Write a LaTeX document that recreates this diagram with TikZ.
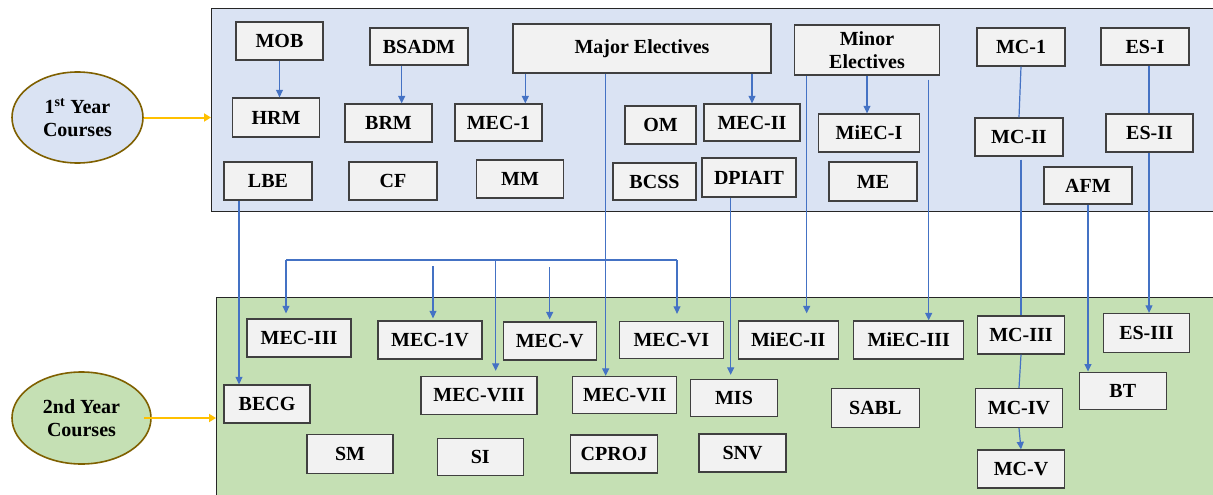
\documentclass[tikz,border=0pt]{standalone}
\usepackage{fontspec}
\setmainfont{Liberation Serif}
\usetikzlibrary{shapes.geometric,arrows.meta}
\definecolor{boxfill}{HTML}{F2F2F2}
\definecolor{boxline}{HTML}{404040}
\definecolor{topfill}{HTML}{DAE3F3}
\definecolor{botfill}{HTML}{C5E0B4}
\definecolor{conn}{HTML}{4472C4}
\definecolor{gold}{HTML}{FFC000}
\definecolor{ellline}{HTML}{7F6000}
\begin{document}
\begin{tikzpicture}[x=1pt,y=-1pt,
  box/.style={draw=boxline, fill=boxfill, line width=1.3pt, inner sep=0pt,
    font=\bfseries\fontsize{20}{23}\selectfont, align=center},
  bw/.style={minimum width=#1},
  bh/.style={minimum height=#1},
  panel/.style={draw=black!85, line width=1.2pt, anchor=north west, inner sep=0pt},
  yearell/.style={ellipse, draw=ellline, line width=1.6pt, inner sep=0pt,
    font=\bfseries\fontsize{20}{23}\selectfont, align=center},
  arr/.style={draw=conn, line width=1.2pt, -{Triangle[length=7.5pt,width=7pt]}},
  ln/.style={draw=conn, line width=1.2pt},
  garr/.style={draw=gold, line width=2pt, -{Triangle[length=7pt,width=8pt]}}
]
\useasboundingbox (0,0) rectangle (1213,495);
\fill[white] (0,0) rectangle (1213,495);

% panels
\node[panel, fill=topfill, minimum width=1003pt, minimum height=203pt] (Y1) at (211,8) {};
\node[panel, fill=botfill, minimum width=998pt, minimum height=205pt] (Y2) at (216,297) {};

% year ellipses
\node[yearell, fill=topfill, minimum width=131pt, minimum height=91pt] (E1) at (77.5,117.5) {1\textsuperscript{st} Year\\Courses};
\node[yearell, fill=botfill, minimum width=139pt, minimum height=92pt] (E2) at (81.5,418) {2nd Year\\Courses};
\draw[garr] (E1.east) -- (E1.east -| Y1.west);
\draw[garr] ([xshift=-8pt]E2.east) -- (E2.east -| Y2.west);

% first-year boxes
\node[box, bw=87pt, bh=38pt] (MOB) at (279.5,41) {MOB};
\node[box, bw=87pt, bh=39pt] (HRM) at (276,117.5) {HRM};
\node[box, bw=88pt, bh=38pt] (LBE) at (268,181) {LBE};
\node[box, bw=98pt, bh=37pt] (BSADM) at (419,46.5) {BSADM};
\node[box, bw=87pt, bh=38pt] (BRM) at (388.5,123) {BRM};
\node[box, bw=88pt, bh=38pt] (CF) at (393,181) {CF};
\node[box, bw=258pt, bh=49pt] (Major) at (642,48.5) {Major Electives};
\node[box, bw=87pt, bh=37pt] (MEC1) at (498.5,122.5) {MEC-1};
\node[box, bw=87pt, bh=38pt] (MM) at (520,179) {MM};
\node[box, bw=71pt, bh=38pt] (OM) at (660.5,125) {OM};
\node[box, bw=96pt, bh=37pt] (MECII) at (752,122.5) {MEC-II};
\node[box, bw=83pt, bh=37pt] (BCSS) at (654.5,181.5) {BCSS};
\node[box, bw=94pt, bh=39pt] (DPIAIT) at (749,177.5) {DPIAIT};
\node[box, bw=145pt, bh=50pt] (Minor) at (867,50) {Minor\\Electives};
\node[box, bw=101pt, bh=38pt] (MiECI) at (869,133) {MiEC-I};
\node[box, bw=88pt, bh=39pt] (ME) at (873,181.5) {ME};
\node[box, bw=88pt, bh=38pt] (MC1) at (1021,47) {MC-1};
\node[box, bw=88pt, bh=38pt] (MCII) at (1019,137) {MC-II};
\node[box, bw=88pt, bh=37pt] (ESI) at (1145,46.5) {ES-I};
\node[box, bw=87pt, bh=38pt] (ESII) at (1149.5,133) {ES-II};
\node[box, bw=88pt, bh=37pt] (AFM) at (1088,185.5) {AFM};

% second-year boxes
\node[box, bw=104pt, bh=38pt] (MECIII) at (299,338) {MEC-III};
\node[box, bw=86pt, bh=38pt] (BECG) at (267,404) {BECG};
\node[box, bw=86pt, bh=39pt] (SM) at (350,454) {SM};
\node[box, bw=104pt, bh=38pt] (MEC1V) at (430,340) {MEC-1V};
\node[box, bw=93pt, bh=38pt] (MECV) at (549.7,341) {MEC-V};
\node[box, bw=104pt, bh=37pt] (MECVI) at (671.3,340) {MEC-VI};
\node[box, bw=100pt, bh=38pt] (MiECII) at (788.3,340) {MiEC-II};
\node[box, bw=116pt, bh=38pt] (MECVIII) at (479,395.5) {MEC-VIII};
\node[box, bw=104pt, bh=37pt] (MECVII) at (624.7,395) {MEC-VII};
\node[box, bw=87pt, bh=37pt] (MIS) at (734,398) {MIS};
\node[box, bw=86pt, bh=37pt] (SI) at (480.3,457) {SI};
\node[box, bw=87pt, bh=38pt] (CPROJ) at (614,454) {CPROJ};
\node[box, bw=87pt, bh=38pt] (SNV) at (742.5,453) {SNV};
\node[box, bw=110pt, bh=38pt] (MiECIII) at (908.8,340) {MiEC-III};
\node[box, bw=87pt, bh=38pt] (MCIII) at (1021,335) {MC-III};
\node[box, bw=86pt, bh=39pt] (ESIII) at (1146.5,333) {ES-III};
\node[box, bw=88pt, bh=39pt] (SABL) at (875.3,408) {SABL};
\node[box, bw=87pt, bh=39pt] (MCIV) at (1019,408) {MC-IV};
\node[box, bw=87pt, bh=37pt] (BT) at (1122.8,390.7) {BT};
\node[box, bw=87pt, bh=38pt] (MCV) at (1021,469) {MC-V};

% first-year connectors
\draw[arr] (MOB.south) -- (MOB.south |- HRM.north);
\draw[arr] (401.7,0 |- BSADM.south) -- (401.7,0 |- BRM.north);
\draw[arr] (525.3,0 |- Major.south) -- (525.3,0 |- MEC1.north);
\draw[arr] (752,0 |- Major.south) -- (MECII.north);
\draw[arr] (Minor.south) -- (Minor.south |- MiECI.north);
\draw[ln] (MC1.south) -- (MCII.north);
\draw[ln] (1149,0 |- ESI.south) -- (1149,0 |- ESII.north);

% cross-year connectors
\draw[arr] (239,0 |- LBE.south) -- (239,0 |- BECG.north);
\draw[arr] (605.7,0 |- Major.south) -- (605.7,0 |- MECVII.north);
\draw[arr, shorten >=4pt] (730.7,0 |- DPIAIT.south) -- (730.7,0 |- MIS.north);
\draw[arr, shorten >=7pt] (806.7,0 |- Minor.south) -- (806.7,0 |- MiECII.north);
\draw[arr] ([yshift=-4pt]928.7,0 |- Minor.south) -- (928.7,0 |- MiECIII.north);
\draw[ln] ([yshift=-3pt]1021,0 |- MCII.south) -- (MCIII.north);
\draw[arr] (AFM.south) -- (AFM.south |- BT.north);
\draw[arr] (1149,0 |- ESII.south) -- (1149,0 |- ESIII.north);
\draw[ln] (MCIII.south) -- (MCIV.north);
\draw[arr] (MCIV.south) -- (MCV.north);

% elective bracket
\coordinate (b1) at (286,260);
\coordinate (b2) at (677,260);
\coordinate (b3) at (433,266);
\coordinate (b4) at (549.7,267);
\coordinate (b5) at (495.7,260);
\draw[ln] (b1) -- (b2);
\draw[arr, shorten >=5pt] (b1) -- (b1 |- MECIII.north);
\draw[arr, shorten >=2pt] (b3) -- (b3 |- MEC1V.north);
\draw[arr, shorten >=2pt] (b4) -- (b4 |- MECV.north);
\draw[arr, shorten >=5pt] (b5) -- (b5 |- MECVIII.north);
\draw[arr, shorten >=7pt] (b2) -- (b2 |- MECVI.north);
\end{tikzpicture}
\end{document}
